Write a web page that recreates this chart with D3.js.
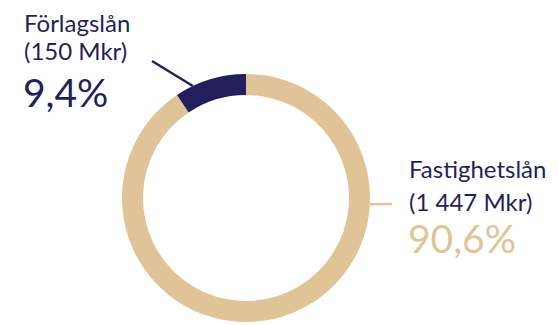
<!DOCTYPE html>
<html>
<head>
<meta charset="utf-8">
<script src="https://cdn.jsdelivr.net/npm/d3@7"></script>
<style>
  html, body { margin: 0; padding: 0; background: #fff; }
  svg { display: block; }
  text { font-family: Lato, "Open Sans", sans-serif; }
</style>
</head>
<body>
<div class="chart"></div>
<script>
// data
const categories = ["Fastighetslån", "Förlagslån"];
const amounts = ["1 447 Mkr", "150 Mkr"];
const shares = [90.6, 9.4];
const shareLabels = ["90,6%", "9,4%"];

const colors = ["#e0c497", "#231f5c"];
const textColor = "#231f5c";

const width = 558, height = 325;
const cx = 246, cy = 198;
const outerR = 124, innerR = 103;

const svg = d3.select(".chart")
  .append("svg")
  .attr("width", width)
  .attr("height", height);

const pie = d3.pie().sort(null).value(d => d);
const arcs = pie(shares);

const arc = d3.arc().innerRadius(innerR).outerRadius(outerR);

const g = svg.append("g").attr("transform", `translate(${cx}, ${cy})`);

g.selectAll("path.slice")
  .data(arcs)
  .enter()
  .append("path")
  .attr("class", "slice")
  .attr("d", arc)
  .attr("fill", (d, i) => colors[i]);

// label layout: anchor angle on the ring, where the leader ends, text position
const labels = [
  { angle: d => Math.PI / 2 + 0.05, lineTo: [392, 204], x: 409, y: [178, 211, 253] },
  { angle: d => d.startAngle + (d.endAngle - d.startAngle) * 0.25, lineTo: [152, 61], x: 24, y: [32, 60, 107] }
];

const onRing = a => [cx + outerR * Math.sin(a), cy - outerR * Math.cos(a)];

svg.selectAll("line.leader")
  .data(arcs)
  .enter()
  .append("line")
  .attr("class", "leader")
  .attr("x1", (d, i) => onRing(labels[i].angle(d))[0])
  .attr("y1", (d, i) => onRing(labels[i].angle(d))[1])
  .attr("x2", (d, i) => labels[i].lineTo[0])
  .attr("y2", (d, i) => labels[i].lineTo[1])
  .attr("stroke", (d, i) => colors[i])
  .attr("stroke-width", 2.5);

const lbl = svg.selectAll("g.label")
  .data(arcs)
  .enter()
  .append("g")
  .attr("class", "label");

lbl.append("text")
  .attr("x", (d, i) => labels[i].x)
  .attr("y", (d, i) => labels[i].y[0])
  .attr("fill", textColor)
  .attr("font-size", 24)
  .text((d, i) => categories[i]);

lbl.append("text")
  .attr("x", (d, i) => labels[i].x)
  .attr("y", (d, i) => labels[i].y[1])
  .attr("fill", textColor)
  .attr("font-size", 24)
  .text((d, i) => `(${amounts[i]})`);

lbl.append("text")
  .attr("x", (d, i) => labels[i].x - 1)
  .attr("y", (d, i) => labels[i].y[2])
  .attr("fill", (d, i) => i === 0 ? colors[0] : textColor)
  .attr("font-size", 39)
  .text((d, i) => shareLabels[i]);
</script>
</body>
</html>
